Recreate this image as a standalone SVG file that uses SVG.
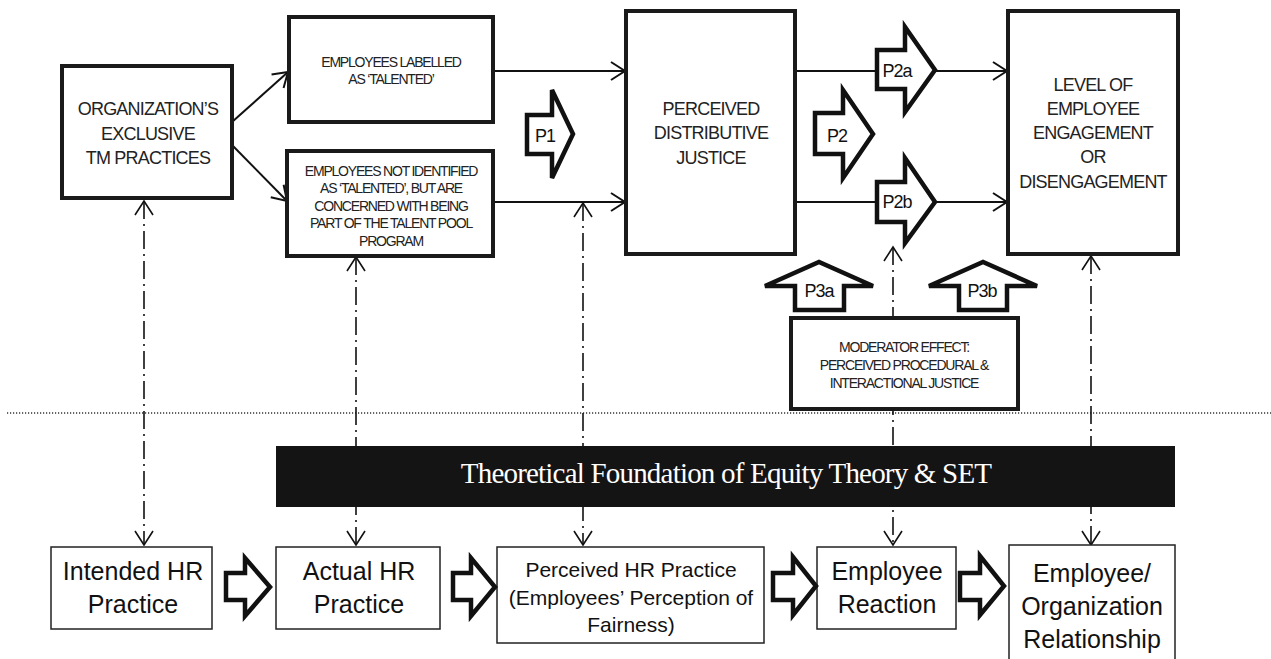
<svg xmlns="http://www.w3.org/2000/svg" width="1271" height="659" viewBox="0 0 1271 659">
<defs>
<style>
.box{fill:#fff;stroke:#1a1a1a;stroke-width:4}
.lbox{fill:#fff;stroke:#222;stroke-width:1.5}
.blk{fill:#fff;stroke:#111;stroke-width:4.5;stroke-linejoin:miter}
.t{font-family:"Liberation Sans",Arial,sans-serif;fill:#222;text-anchor:middle}
.up18{font-size:18px;letter-spacing:-0.8px}
.up14{font-size:14px;letter-spacing:-1.2px}
.b25{font-size:25px;fill:#111}
.b21{font-size:21px;fill:#111}
.p{font-size:18px;letter-spacing:-1px;fill:#111}
.conn{stroke:#111;stroke-width:2;fill:none}
.dd{stroke:#111;stroke-width:1.6;fill:none;stroke-dasharray:18 5 2 5}
.dot{stroke:#333;stroke-width:1.5;fill:none;stroke-dasharray:1.2 1.8}
.th{font-family:"Liberation Serif","Times New Roman",serif;font-size:29px;letter-spacing:-0.8px;fill:#fff;text-anchor:middle}
</style>
<marker id="ah" markerUnits="userSpaceOnUse" viewBox="-16 -12 20 24" refX="0" refY="0" markerWidth="20" markerHeight="24" orient="auto-start-reverse" overflow="visible"><path d="M-14,-9 L0,0 L-14,9" fill="none" stroke="#111" stroke-width="2"/></marker>
<marker id="ahd" markerUnits="userSpaceOnUse" viewBox="-16 -12 20 24" refX="0" refY="0" markerWidth="20" markerHeight="24" orient="auto-start-reverse" overflow="visible"><path d="M-14,-9 L0,0 L-14,9" fill="none" stroke="#111" stroke-width="1.6"/></marker>
</defs>
<rect width="1271" height="659" fill="#fff"/>

<g id="connectors">
<line class="dot" x1="7" y1="413" x2="1271" y2="413"/>
<path class="dd" d="M144,201 V545" marker-start="url(#ahd)" marker-end="url(#ahd)"/>
<path class="dd" d="M356,257 V545" marker-start="url(#ahd)" marker-end="url(#ahd)"/>
<path class="dd" d="M583,203 V545" marker-start="url(#ahd)" marker-end="url(#ahd)"/>
<path class="dd" d="M893,247 V545" marker-start="url(#ahd)" marker-end="url(#ahd)"/>
<path class="dd" d="M1091,256 V545" marker-start="url(#ahd)" marker-end="url(#ahd)"/>
<path class="conn" d="M232,122 L288,72" marker-end="url(#ah)"/>
<path class="conn" d="M232,145 L287,201" marker-end="url(#ah)"/>
<path class="conn" d="M493,71 H625" marker-end="url(#ah)"/>
<path class="conn" d="M493,202 H625" marker-end="url(#ah)"/>
<path class="conn" d="M795,71 H1007" marker-end="url(#ah)"/>
<path class="conn" d="M795,202 H1007" marker-end="url(#ah)"/>
</g>

<g id="org">
<rect class="box" x="62" y="66" width="170" height="132"/>
<text class="t up18"><tspan x="148" y="115">ORGANIZATION’S</tspan><tspan x="148" y="140">EXCLUSIVE</tspan><tspan x="148" y="164">TM PRACTICES</tspan></text>
</g>
<g id="labelled">
<rect class="box" x="289" y="17" width="204" height="105"/>
<text class="t up14"><tspan x="391" y="67">EMPLOYEES LABELLED</tspan><tspan x="391" y="84">AS ‘TALENTED’</tspan></text>
</g>
<g id="notidentified">
<rect class="box" x="287" y="151" width="206" height="105"/>
<text class="t up14"><tspan x="391" y="176">EMPLOYEES NOT IDENTIFIED</tspan><tspan x="391" y="193">AS ‘TALENTED’, BUT ARE</tspan><tspan x="391" y="211">CONCERNED WITH BEING</tspan><tspan x="391" y="228">PART OF THE TALENT POOL</tspan><tspan x="391" y="246">PROGRAM</tspan></text>
</g>
<g id="pdj">
<rect class="box" x="626" y="11" width="169" height="243"/>
<text class="t up18"><tspan x="711" y="115">PERCEIVED</tspan><tspan x="711" y="139">DISTRIBUTIVE</tspan><tspan x="711" y="164">JUSTICE</tspan></text>
</g>
<g id="engagement">
<rect class="box" x="1008" y="11" width="170" height="243"/>
<text class="t up18"><tspan x="1093" y="91">LEVEL OF</tspan><tspan x="1093" y="115">EMPLOYEE</tspan><tspan x="1093" y="139">ENGAGEMENT</tspan><tspan x="1093" y="163">OR</tspan><tspan x="1093" y="188">DISENGAGEMENT</tspan></text>
</g>
<g id="moderator">
<rect class="box" x="791" y="318" width="227" height="91"/>
<text class="t up14"><tspan x="904" y="352">MODERATOR EFFECT:</tspan><tspan x="904" y="370">PERCEIVED PROCEDURAL &amp;</tspan><tspan x="904" y="388">INTERACTIONAL JUSTICE</tspan></text>
</g>

<g id="p1">
<polygon class="blk" points="527,115 552,115 552,90 573,134 552,178 552,154 527,154"/>
<text class="t p" x="545" y="142">P1</text>
</g>
<g id="p2">
<polygon class="blk" points="815,113 843,113 843,90 873,134 843,178 843,154 815,154"/>
<text class="t p" x="837" y="142">P2</text>
</g>
<g id="p2a">
<polygon class="blk" points="877,50 905,50 905,27 935,70 905,112 905,89 877,89"/>
<text class="t p" x="897" y="77">P2a</text>
</g>
<g id="p2b">
<polygon class="blk" points="877,182 905,182 905,158 935,202 905,243 905,222 877,222"/>
<text class="t p" x="897" y="208">P2b</text>
</g>
<g id="p3a">
<polygon class="blk" points="795,310 795,286 765,286 819,262 873,286 844,286 844,310"/>
<text class="t p" x="819" y="297">P3a</text>
</g>
<g id="p3b">
<polygon class="blk" points="959,310 959,286 929,286 983,262 1037,286 1007,286 1007,310"/>
<text class="t p" x="982" y="297">P3b</text>
</g>

<g id="theory">
<rect x="276" y="446" width="899" height="61" fill="#141414"/>
<text class="th" x="726" y="483">Theoretical Foundation of Equity Theory &amp; SET</text>
</g>

<g id="intended">
<rect class="lbox" x="51" y="547" width="161" height="82"/>
<text class="t b25"><tspan x="133" y="580">Intended HR</tspan><tspan x="133" y="613">Practice</tspan></text>
</g>
<g id="actual">
<rect class="lbox" x="276" y="547" width="164" height="82"/>
<text class="t b25"><tspan x="359" y="580">Actual HR</tspan><tspan x="359" y="613">Practice</tspan></text>
</g>
<g id="perceived">
<rect class="lbox" x="497" y="547" width="267" height="96"/>
<text class="t b21"><tspan x="631" y="577">Perceived HR Practice</tspan><tspan x="631" y="605">(Employees’ Perception of</tspan><tspan x="631" y="632">Fairness)</tspan></text>
</g>
<g id="reaction">
<rect class="lbox" x="817" y="547" width="139" height="82"/>
<text class="t b25"><tspan x="887" y="580">Employee</tspan><tspan x="887" y="613">Reaction</tspan></text>
</g>
<g id="relationship">
<rect class="lbox" x="1009" y="545" width="166" height="125"/>
<text class="t b25"><tspan x="1092" y="582">Employee/</tspan><tspan x="1092" y="615">Organization</tspan><tspan x="1092" y="648">Relationship</tspan></text>
</g>

<g id="flow-arrows">
<polygon class="blk" points="226,573 245,573 245,558 270,587 245,616 245,600 226,600"/>
<polygon class="blk" points="453,573 471,573 471,558 495,587 471,616 471,600 453,600"/>
<polygon class="blk" points="773,573 793,573 793,557 816,586 793,615 793,600 773,600"/>
<polygon class="blk" points="960,573 980,573 980,556 1004,586 980,615 980,600 960,600"/>
</g>
</svg>
